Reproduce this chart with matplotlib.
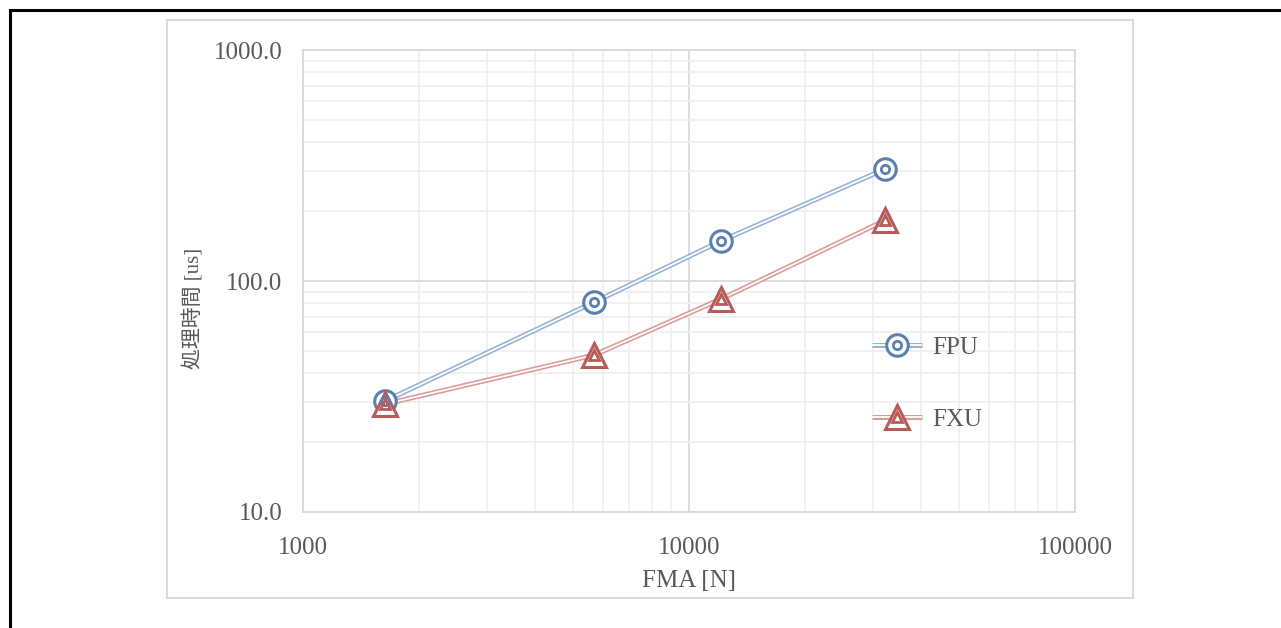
import matplotlib
matplotlib.use("Agg")
import matplotlib.pyplot as plt
from matplotlib.legend_handler import HandlerTuple
from matplotlib.ticker import FixedLocator, NullFormatter, FixedFormatter

fma = [1630, 5680, 12100, 32200]
fpu = [30.2, 81.0, 149.0, 305.0]
fxu = [29.3, 47.8, 83.5, 183.0]
series_labels = ["FPU", "FXU"]
x_ticks = [1000, 10000, 100000]
x_ticklabels = ["1000", "10000", "100000"]
y_ticks = [10, 100, 1000]
y_ticklabels = ["10.0", "100.0", "1000.0"]

SERIF = ["Liberation Serif", "Noto Sans CJK JP"]
TXT = "#595959"

fig = plt.figure(figsize=(12.81, 6.28), dpi=100)
ax = fig.add_axes([303/1281, 1 - 512/628, (1075-303)/1281, (512-50)/628])

# outer borders
fig.add_artist(plt.Line2D([9.5/1281, 9.5/1281], [0, 1 - 9.5/628], transform=fig.transFigure, color="black", lw=2.2))
fig.add_artist(plt.Line2D([9.5/1281, 1], [1 - 9.5/628, 1 - 9.5/628], transform=fig.transFigure, color="black", lw=2.2))
fig.add_artist(plt.Rectangle((167/1281, 1 - 598/628), (1133-167)/1281, (598-20)/628,
                             transform=fig.transFigure, fill=False, edgecolor="#d9d9d9", lw=1.5))

ax.set_xscale("log")
ax.set_yscale("log")
ax.set_xlim(1000, 100000)
ax.set_ylim(10, 1000)

minor_x = [m * d for d in (1000, 10000) for m in range(2, 10)]
minor_y = [m * d for d in (10, 100) for m in range(2, 10)]
ax.xaxis.set_major_locator(FixedLocator(x_ticks))
ax.xaxis.set_major_formatter(FixedFormatter(x_ticklabels))
ax.yaxis.set_major_locator(FixedLocator(y_ticks))
ax.yaxis.set_major_formatter(FixedFormatter(y_ticklabels))
ax.xaxis.set_minor_locator(FixedLocator(minor_x))
ax.yaxis.set_minor_locator(FixedLocator(minor_y))
ax.xaxis.set_minor_formatter(NullFormatter())
ax.yaxis.set_minor_formatter(NullFormatter())
ax.grid(True, which="minor", color="#f0f0f0", lw=1.3, zorder=0)
ax.grid(True, which="major", color="#d9d9d9", lw=1.3, zorder=0)
ax.tick_params(which="both", length=0, labelsize=18, colors=TXT)
ax.tick_params(axis="x", pad=18)
ax.tick_params(axis="y", pad=15)
for lab in ax.get_xticklabels() + ax.get_yticklabels():
    lab.set_family(SERIF)
for sp in ax.spines.values():
    sp.set_color("#d9d9d9")
    sp.set_linewidth(1.3)

styles = [
    dict(y=fpu, line="#95b3d7", mk="#5b7fb0", marker="o", ms=15.5, ims=6),
    dict(y=fxu, line="#dc9a98", mk="#b85c5a", marker="^", ms=17, ims=6.5),
]
handles = []
for st in styles:
    l1, = ax.plot(fma, st["y"], color=st["line"], lw=3.6, zorder=3, solid_capstyle="butt")
    l2, = ax.plot(fma, st["y"], color="white", lw=1.3, zorder=4, solid_capstyle="butt")
    m1, = ax.plot(fma, st["y"], ls="none", marker=st["marker"], ms=st["ms"], mfc="white",
                  mec=st["mk"], mew=2.2, zorder=5)
    m2, = ax.plot(fma, st["y"], ls="none", marker=st["marker"], ms=st["ims"], mfc="none",
                  mec=st["mk"], mew=2.0, zorder=6)
    handles.append((l1, l2, m1, m2))

leg = ax.legend(handles, series_labels, handler_map={tuple: HandlerTuple(ndivide=1)},
                loc="upper left", bbox_to_anchor=((872-303)/772, 1 - (336-50)/462),
                frameon=False, labelspacing=1.98, handlelength=2.0, handletextpad=0.4,
                borderaxespad=0, borderpad=0, prop={"family": SERIF, "size": 18})
for t in leg.get_texts():
    t.set_color(TXT)

ax.set_xlabel("FMA [N]", family=SERIF, fontsize=18, color=TXT, labelpad=8)
ax.set_ylabel("処理時間 [us]", family=SERIF, fontsize=15, color=TXT)
ax.yaxis.set_label_coords(-0.128, 0.44)

fig.savefig("out.png", dpi=100)
